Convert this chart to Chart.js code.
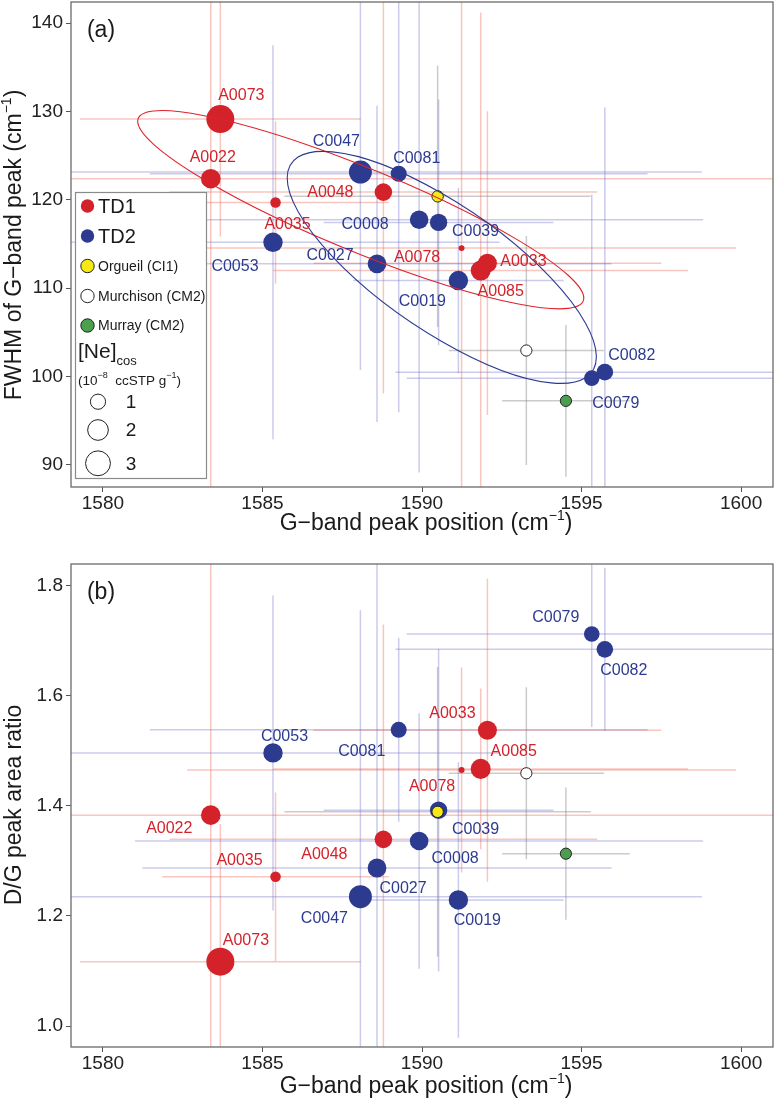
<!DOCTYPE html>
<html><head><meta charset="utf-8">
<script src="https://cdn.jsdelivr.net/npm/chart.js@4.4.1/dist/chart.umd.min.js"></script>
<style>
html,body{margin:0;padding:0;background:#fff;width:776px;height:1105px;overflow:hidden}
.wrap{position:absolute;left:0;width:776px}
#wa{top:0;height:548px}
#wb{top:548px;height:557px}
canvas{display:block}
</style></head><body>
<div class="wrap" id="wa"><canvas id="ca" width="776" height="548" style="width:776px;height:548px"></canvas></div>
<div class="wrap" id="wb"><canvas id="cb" width="776" height="557" style="width:776px;height:557px"></canvas></div>
<script>
// ---------------- data ----------------
const td1Names   = ['A0073','A0022','A0048','A0035','A0078','A0033','A0085'];
const td1Pos     = [1583.68,1583.38,1588.79,1585.41,1591.24,1592.05,1591.84];
const td1PosErr  = [4.4,20,6.7,3.55,8.6,5.45,6.5];
const td1Fwhm    = [129.15,122.4,120.88,119.7,114.54,112.84,112.0];
const td1FwhmErr = [13.3,40,22.8,9.2,40,17.2,29.2];
const td1DG      = [1.117,1.383,1.339,1.271,1.465,1.537,1.467];
const td1DGErr   = [0.25,0.5,0.39,0.153,0.186,0.275,0.146];
const td1Ne      = [3.88,1.78,1.40,0.42,0.09,1.66,1.86];

const td2Names   = ['C0047','C0081','C0008','C0039','C0053','C0027','C0019','C0082','C0079'];
const td2Pos     = [1588.07,1589.27,1589.91,1590.52,1585.33,1588.59,1591.14,1595.73,1595.32];
const td2PosErr  = [10.7,7.8,8.9,3.6,7.1,7.35,3.3,6.56,5.8];
const td2Fwhm    = [123.15,122.96,117.75,117.45,115.2,112.76,110.87,100.5,99.82];
const td2FwhmErr = [22.4,27,28.6,13.9,22.3,17.9,10.5,30,20.8];
const td2DG      = [1.235,1.538,1.336,1.392,1.496,1.287,1.229,1.684,1.712];
const td2DGErr   = [0.52,0.167,0.232,0.293,0.286,0.6,0.25,0.148,0.169];
const td2Ne      = [2.53,1.12,1.58,1.36,1.74,1.62,1.74,1.22,1.06];

const metNames   = ['Orgueil (CI1)','Murchison (CM2)','Murray (CM2)'];
const metPos     = [1590.49,1593.27,1594.51];
const metPosErr  = [4.8,2.43,2.0];
const metFwhm    = [120.4,102.95,97.25];
const metFwhmErr = [14.8,12.95,8.6];
const metDG      = [1.389,1.459,1.313];
const metDGErr   = [0.263,0.156,0.12];

const xTicks  = [1580,1585,1590,1595,1600];
const yTicksA = [90,100,110,120,130,140];
const yTicksB = [1.0,1.2,1.4,1.6,1.8];
const neLegend = [1,2,3];

// 95% ellipses (panel a): centre and conjugate semi-diameters, data units
const ellipseTD1 = [1588.08,118.89, 6.99,-10.0, 0,5.09];
const ellipseTD2 = [1590.62,112.36, 4.845,-10.11, 0,8.38];

// ---------------- style / layout ----------------
const FAM = '"Liberation Sans", Arial, Helvetica, sans-serif';
const RED = '#d3222a', BLUE = '#2c3b90';
const RED_ERR = 'rgba(238,120,100,0.42)', BLUE_ERR = 'rgba(110,110,200,0.36)', GREY_ERR = 'rgba(130,130,130,0.42)';
const MET_FILL = ['#f7ea14','#ffffff','#4c9f4f'];
const neRadius = v => 1 + 6.6*Math.sqrt(v);

const labelOffA = {A0073:[21,-23],A0022:[2,-21],C0047:[-24,-30],C0081:[18,-15.5],A0048:[-53,0],A0035:[12,22],
  C0053:[-38,24],C0008:[-54,4.5],C0039:[37,9],C0027:[-47,-8],A0078:[-44.5,9],A0033:[36,-2],A0085:[20,21],
  C0019:[-36,21],C0082:[27,-17],C0079:[24,25]};
const labelOffB = {C0079:[-36,-16],C0082:[19,21.5],A0033:[-35,-16.5],C0081:[-37,21.5],C0053:[11.5,-16.4],
  A0085:[33,-17.5],A0078:[-29.5,16.5],C0039:[37,19],A0022:[-41.5,13.6],A0048:[-59,15],C0008:[36,17.6],
  A0035:[-36,-16.6],C0027:[26,21],C0047:[-36,22],C0019:[19,21],A0073:[25.6,-21]};

function drawRich(ctx, x, y, parts, align, color, rot){
  ctx.save(); ctx.translate(x,y); if(rot) ctx.rotate(rot);
  ctx.fillStyle = color; ctx.textBaseline = 'middle'; ctx.textAlign = 'left';
  let w = 0;
  parts.forEach(p => { ctx.font = p.s+'px '+FAM; p.w = ctx.measureText(p.t).width; w += p.w; });
  let cx = align === 'center' ? -w/2 : 0;
  parts.forEach(p => { ctx.font = p.s+'px '+FAM; ctx.fillText(p.t, cx, p.dy||0); cx += p.w; });
  ctx.restore();
}

function makeChart(id, P){
  const pts = (xs, ys) => xs.map((v,i)=>({x:v, y:ys[i]}));
  const groups = [
    {xs:td1Pos, ys:P.td1Y, xe:td1PosErr, ye:P.td1E, c:RED_ERR},
    {xs:td2Pos, ys:P.td2Y, xe:td2PosErr, ye:P.td2E, c:BLUE_ERR},
    {xs:metPos, ys:P.metY, xe:metPosErr, ye:P.metE, c:GREY_ERR}
  ];
  const errPlugin = {
    id:'errbars',
    beforeDatasetsDraw(chart){
      const {ctx, chartArea:a, scales:{x,y}} = chart;
      ctx.save(); ctx.beginPath(); ctx.rect(a.left,a.top,a.right-a.left,a.bottom-a.top); ctx.clip();
      ctx.lineWidth = 1.5;
      groups.forEach(g => {
        ctx.strokeStyle = g.c;
        g.xs.forEach((xv,i) => {
          const yv = g.ys[i], px = x.getPixelForValue(xv), py = y.getPixelForValue(yv);
          ctx.beginPath();
          ctx.moveTo(x.getPixelForValue(xv-g.xe[i]), py); ctx.lineTo(x.getPixelForValue(xv+g.xe[i]), py);
          ctx.moveTo(px, y.getPixelForValue(yv-g.ye[i])); ctx.lineTo(px, y.getPixelForValue(yv+g.ye[i]));
          ctx.stroke();
        });
      });
      ctx.restore();
    }
  };
  const overPlugin = {
    id:'over',
    afterDatasetsDraw(chart){
      const {ctx, chartArea:a, scales:{x,y}} = chart;
      if (P.ellipses){
        ctx.save(); ctx.beginPath(); ctx.rect(a.left,a.top,a.right-a.left,a.bottom-a.top); ctx.clip();
        P.ellipses.forEach(([e,col]) => {
          const cx = x.getPixelForValue(e[0]), cy = y.getPixelForValue(e[1]);
          const ax = x.getPixelForValue(e[0]+e[2])-cx, ay = y.getPixelForValue(e[1]+e[3])-cy;
          const bx = x.getPixelForValue(e[0]+e[4])-cx, by = y.getPixelForValue(e[1]+e[5])-cy;
          ctx.save(); ctx.transform(ax,ay,bx,by,cx,cy); ctx.beginPath(); ctx.arc(0,0,1,0,2*Math.PI); ctx.restore();
          ctx.strokeStyle = col; ctx.lineWidth = 1.1; ctx.stroke();
        });
        ctx.restore();
      }
      ctx.save(); ctx.font = '16px '+FAM; ctx.textAlign='center'; ctx.textBaseline='middle';
      [[3,td1Names,RED],[4,td2Names,BLUE]].forEach(([di,names,col]) => {
        const meta = chart.getDatasetMeta(di);
        ctx.fillStyle = col;
        names.forEach((n,i) => {
          const el = meta.data[i], o = P.offs[n];
          ctx.fillText(n, el.x+o[0], el.y+o[1]);
        });
      });
      ctx.restore();
    },
    afterDraw(chart){
      const {ctx, chartArea:a} = chart;
      ctx.save();
      ctx.strokeStyle = '#6b6b6b'; ctx.lineWidth = 1.3;
      ctx.strokeRect(a.left, a.top, a.right-a.left, a.bottom-a.top);
      ctx.restore();
      const midX = (a.left+a.right)/2 + 4;
      drawRich(ctx, midX, P.xTitleY, [{t:'G\u2212band peak position (cm',s:23},{t:'\u22121',s:14,dy:-8},{t:')',s:23}], 'center', '#1a1a1a');
      drawRich(ctx, 15, P.yTitleY, P.yTitle, 'center', '#1a1a1a', -Math.PI/2);
      drawRich(ctx, a.left+30, a.top+29, [{t:P.letter,s:23}], 'center', '#1a1a1a');
      if (P.legend) drawLegend(ctx);
    }
  };
  return new Chart(document.getElementById(id), {
    type:'scatter',
    data:{datasets:[
      {label:metNames[0], data:pts([metPos[0]],[P.metY[0]]), pointRadius:5.7, backgroundColor:MET_FILL[0], borderColor:'#222', pointBorderWidth:1},
      {label:metNames[1], data:pts([metPos[1]],[P.metY[1]]), pointRadius:5.6, backgroundColor:MET_FILL[1], borderColor:'#222', pointBorderWidth:1},
      {label:metNames[2], data:pts([metPos[2]],[P.metY[2]]), pointRadius:5.6, backgroundColor:MET_FILL[2], borderColor:'#222', pointBorderWidth:1},
      {label:'TD1', data:pts(td1Pos,P.td1Y), pointRadius:td1Ne.map(neRadius), backgroundColor:RED, pointBorderWidth:0},
      {label:'TD2', data:pts(td2Pos,P.td2Y), pointRadius:td2Ne.map(neRadius), backgroundColor:BLUE, pointBorderWidth:0}
    ]},
    options:{
      responsive:false, devicePixelRatio:1, animation:false, events:[],
      layout:{autoPadding:false, padding:{left:0,right:3,top:P.padTop,bottom:0}},
      plugins:{legend:{display:false}, tooltip:{enabled:false}},
      scales:{
        x:{type:'linear', min:1579, max:1601,
           afterBuildTicks:s => { s.ticks = xTicks.map(v=>({value:v})); },
           afterFit:s => { s.height = P.xh; s.paddingLeft = 0; s.paddingRight = 0; },
           ticks:{font:{family:FAM,size:19}, color:'#222', padding:0, callback:v=>String(v)},
           grid:{drawOnChartArea:false, drawTicks:true, tickLength:5, color:'#555'}, border:{display:false}},
        y:{type:'linear', min:P.ymin, max:P.ymax,
           afterBuildTicks:s => { s.ticks = P.yt.map(v=>({value:v})); },
           afterFit:s => { s.width = 71; s.paddingTop = 0; s.paddingBottom = 0; },
           ticks:{font:{family:FAM,size:19}, color:'#222', padding:3, callback:P.fmt},
           grid:{drawOnChartArea:false, drawTicks:true, tickLength:5, color:'#555'}, border:{display:false}}
      }
    },
    plugins:[errPlugin, overPlugin]
  });
}

function drawLegend(ctx){
  ctx.save();
  ctx.fillStyle = '#fff'; ctx.fillRect(75,192,132,287);
  ctx.strokeStyle = '#8a8a8a'; ctx.lineWidth = 1.2; ctx.strokeRect(75.5,192.5,131,286);
  const circ = (x,y,r,fill,stroke) => { ctx.beginPath(); ctx.arc(x,y,r,0,2*Math.PI); ctx.fillStyle=fill; ctx.fill(); if(stroke){ctx.strokeStyle=stroke; ctx.lineWidth=1; ctx.stroke();} };
  circ(87.5,206,6.7,RED); circ(87.5,236,6.7,BLUE);
  drawRich(ctx, 98, 207, [{t:'TD1',s:20}], 'left', '#1a1a1a');
  drawRich(ctx, 98, 237, [{t:'TD2',s:20}], 'left', '#1a1a1a');
  const my = [266,296,325.5];
  metNames.forEach((n,i) => {
    circ(87.5,my[i],6.7,MET_FILL[i],'#222');
    drawRich(ctx, 98, my[i]+1, [{t:n,s:14}], 'left', '#1a1a1a');
  });
  drawRich(ctx, 78, 352, [{t:'[Ne]',s:21},{t:'cos',s:13,dy:9}], 'left', '#1a1a1a');
  drawRich(ctx, 78, 381, [{t:'(10',s:13.5},{t:'\u22128',s:9,dy:-5},{t:'  ccSTP g',s:13.5},{t:'\u22121',s:9,dy:-5},{t:')',s:13.5}], 'left', '#1a1a1a');
  const ly = [401.7,430,463.3];
  neLegend.forEach((v,i) => {
    circ(98, ly[i], neRadius(v), '#fff', '#222');
    drawRich(ctx, 131, ly[i]+1, [{t:String(v),s:19}], 'center', '#1a1a1a');
  });
  ctx.restore();
}

makeChart('ca', {
  td1Y:td1Fwhm, td1E:td1FwhmErr, td2Y:td2Fwhm, td2E:td2FwhmErr, metY:metFwhm, metE:metFwhmErr,
  ymin:87.5, ymax:142.4, yt:yTicksA, fmt:v=>String(v), padTop:2, xh:61,
  ellipses:[[ellipseTD1,'#e0232b'],[ellipseTD2,'#2c3b90']], offs:labelOffA, legend:true,
  xTitleY:524, yTitleY:245, letter:'(a)',
  yTitle:[{t:'FWHM of G\u2212band peak (cm',s:23},{t:'\u22121',s:14,dy:-8},{t:')',s:23}]
});
makeChart('cb', {
  td1Y:td1DG, td1E:td1DGErr, td2Y:td2DG, td2E:td2DGErr, metY:metDG, metE:metDGErr,
  ymin:0.962, ymax:1.839, yt:yTicksB, fmt:v=>Number(v).toFixed(1), padTop:16, xh:58,
  ellipses:null, offs:labelOffB, legend:false,
  xTitleY:539, yTitleY:257, letter:'(b)',
  yTitle:[{t:'D/G peak area ratio',s:23}]
});
</script>
</body></html>
